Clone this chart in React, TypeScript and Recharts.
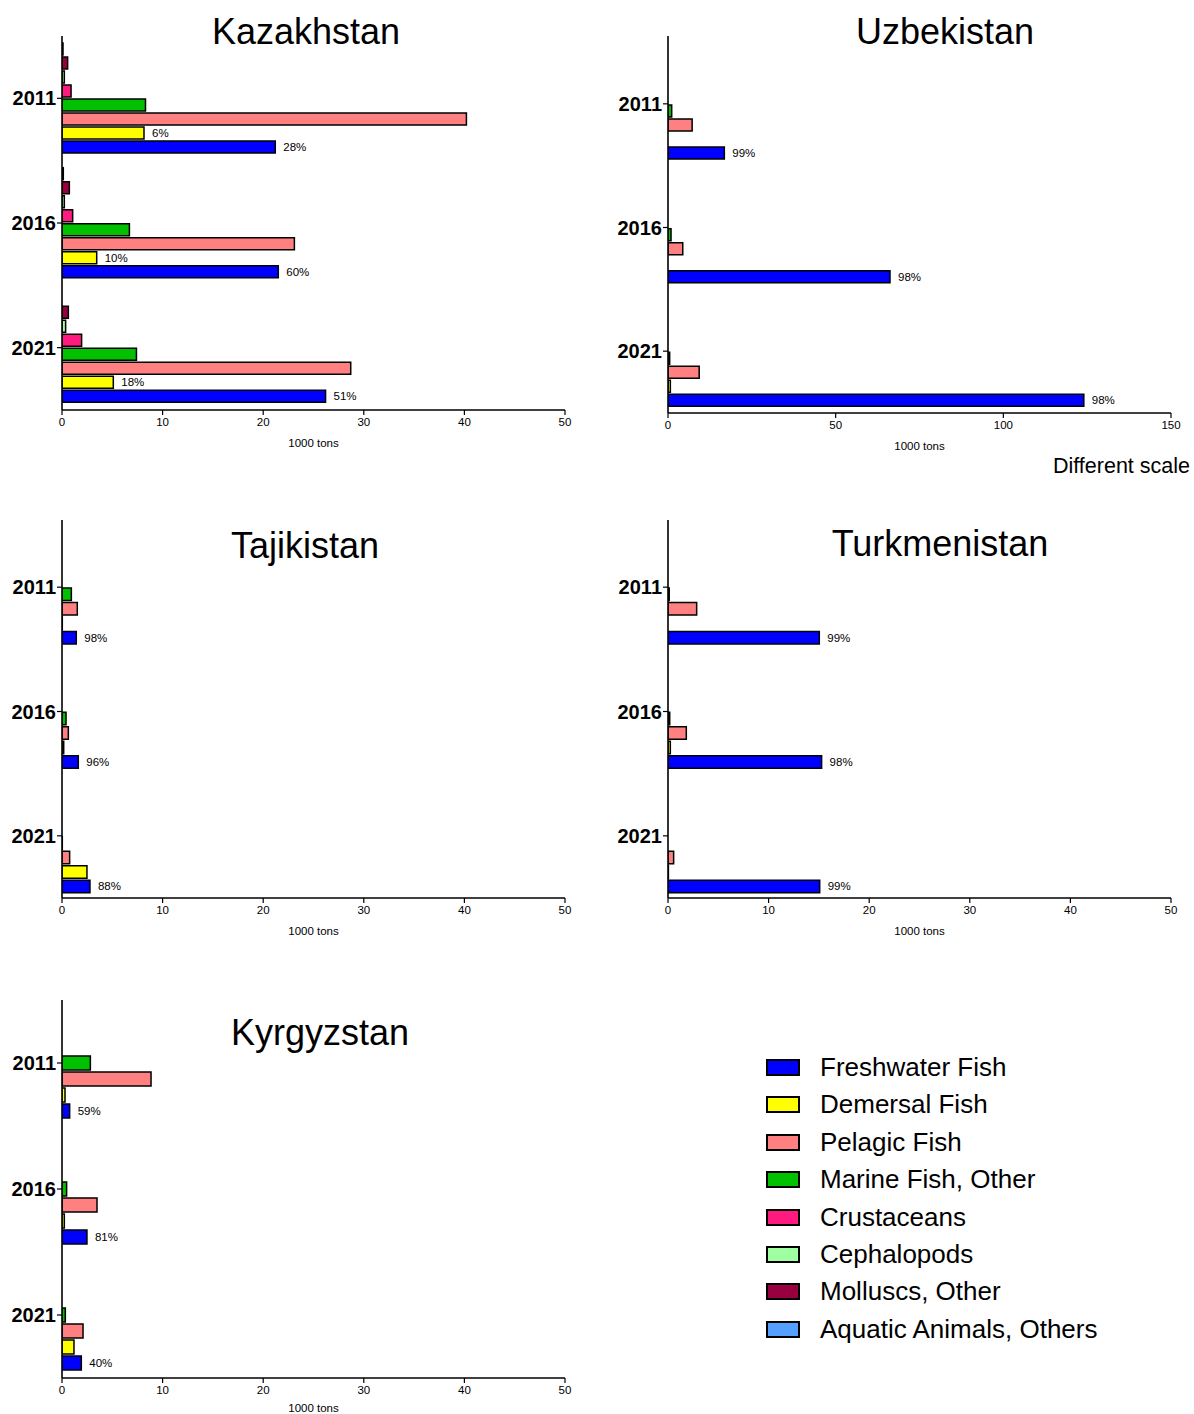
import React from 'react';
import { BarChart, Bar, XAxis, YAxis, LabelList } from 'recharts';

// categories
const years = ['2011', '2016', '2021'];

// series (bottom to top inside each year group)
const seriesKeys = ['fresh', 'demersal', 'pelagic', 'marine', 'crust', 'cephalo', 'mollusc', 'aquatic'];
const seriesNames = [
  'Freshwater Fish',
  'Demersal Fish',
  'Pelagic Fish',
  'Marine Fish, Other',
  'Crustaceans',
  'Cephalopods',
  'Molluscs, Other',
  'Aquatic Animals, Others',
];
const seriesColors = ['#0000ff', '#ffff00', '#ff8080', '#00c000', '#ff1a80', '#a0ffa0', '#990040', '#55a0ff'];

// Kazakhstan, 1000 tons
const kazFresh = [21.2, 21.5, 26.2];
const kazDemersal = [8.15, 3.45, 5.1];
const kazPelagic = [40.2, 23.1, 28.7];
const kazMarine = [8.3, 6.7, 7.4];
const kazCrust = [0.9, 1.06, 1.95];
const kazCephalo = [0.23, 0.23, 0.36];
const kazMollusc = [0.56, 0.73, 0.63];
const kazAquatic = [0.1, 0.13, 0];
const kazFreshPct = ['28%', '60%', '51%'];
const kazDemersalPct = ['6%', '10%', '18%'];

// Uzbekistan
const uzbFresh = [16.8, 66.2, 124];
const uzbDemersal = [0, 0, 0.7];
const uzbPelagic = [7.2, 4.4, 9.3];
const uzbMarine = [1.1, 0.9, 0.5];
const uzbFreshPct = ['99%', '98%', '98%'];

// Tajikistan
const tjkFresh = [1.42, 1.62, 2.78];
const tjkDemersal = [0.03, 0.17, 2.48];
const tjkPelagic = [1.52, 0.63, 0.76];
const tjkMarine = [0.93, 0.4, 0.03];
const tjkFreshPct = ['98%', '96%', '88%'];

// Turkmenistan
const tkmFresh = [15.04, 15.27, 15.08];
const tkmDemersal = [0, 0.23, 0.04];
const tkmPelagic = [2.85, 1.82, 0.56];
const tkmMarine = [0.12, 0.17, 0];
const tkmFreshPct = ['99%', '98%', '99%'];

// Kyrgyzstan
const kgzFresh = [0.76, 2.48, 1.92];
const kgzDemersal = [0.3, 0.23, 1.19];
const kgzPelagic = [8.85, 3.48, 2.09];
const kgzMarine = [2.82, 0.46, 0.33];
const kgzFreshPct = ['59%', '81%', '40%'];

const zeros = [0, 0, 0];

const smallTicks = [0, 10, 20, 30, 40, 50];
const bigTicks = [0, 50, 100, 150];

const FONT = '"Liberation Sans", Arial, sans-serif';

const buildRows = (values: Record<string, number[]>, labels: Record<string, string[]>) =>
  years.map((year, i) => {
    const row: Record<string, string | number> = { year };
    Object.keys(values).forEach((k) => {
      row[k] = values[k][i];
    });
    Object.keys(labels).forEach((k) => {
      row[k + 'Pct'] = labels[k][i];
    });
    return row;
  });

const kazRows = buildRows(
  {
    fresh: kazFresh,
    demersal: kazDemersal,
    pelagic: kazPelagic,
    marine: kazMarine,
    crust: kazCrust,
    cephalo: kazCephalo,
    mollusc: kazMollusc,
    aquatic: kazAquatic,
  },
  { fresh: kazFreshPct, demersal: kazDemersalPct }
);
const uzbRows = buildRows(
  { fresh: uzbFresh, demersal: uzbDemersal, pelagic: uzbPelagic, marine: uzbMarine, crust: zeros, cephalo: zeros, mollusc: zeros, aquatic: zeros },
  { fresh: uzbFreshPct }
);
const tjkRows = buildRows(
  { fresh: tjkFresh, demersal: tjkDemersal, pelagic: tjkPelagic, marine: tjkMarine, crust: zeros, cephalo: zeros, mollusc: zeros, aquatic: zeros },
  { fresh: tjkFreshPct }
);
const tkmRows = buildRows(
  { fresh: tkmFresh, demersal: tkmDemersal, pelagic: tkmPelagic, marine: tkmMarine, crust: zeros, cephalo: zeros, mollusc: zeros, aquatic: zeros },
  { fresh: tkmFreshPct }
);
const kgzRows = buildRows(
  { fresh: kgzFresh, demersal: kgzDemersal, pelagic: kgzPelagic, marine: kgzMarine, crust: zeros, cephalo: zeros, mollusc: zeros },
  { fresh: kgzFreshPct }
);

type PanelProps = {
  rows: Record<string, string | number>[];
  keys: string[];
  xMax: number;
  xTicks: number[];
  left: number;
  width: number;
  plotTop: number;
  plotBottom: number;
  barSize: number;
  padTop?: number;
  labelOffset?: number;
};

const Panel = ({ rows, keys, xMax, xTicks, left, width, plotTop, plotBottom, barSize, padTop = 0, labelOffset = 5 }: PanelProps) => {
  const marginTop = 10;
  const xAxisH = 42;
  const marginBottom = 0;
  const height = plotBottom - plotTop + marginTop + xAxisH + marginBottom;
  const plotLeft = 62;
  const plotWidth = 503;
  const topFirst = [...keys].reverse();
  return (
    <div style={{ position: 'absolute', left, top: plotTop - marginTop, width, height }}>
      <BarChart
        width={width}
        height={height}
        data={rows}
        layout="vertical"
        barGap={2}
        barSize={barSize}
        margin={{ top: marginTop, right: width - plotLeft - plotWidth, left: 2, bottom: marginBottom }}
      >
        <XAxis
          type="number"
          domain={[0, xMax]}
          ticks={xTicks}
          allowDataOverflow
          height={xAxisH}
          tickSize={5}
          tickMargin={3}
          axisLine={{ stroke: '#000', strokeWidth: 1.6 }}
          tickLine={{ stroke: '#000', strokeWidth: 1.2 }}
          tick={{ fontSize: 11.5, fill: '#000' }}
          label={{ value: '1000 tons', position: 'insideBottom', offset: labelOffset, fontSize: 11.5, fill: '#000' }}
        />
        <YAxis
          type="category"
          dataKey="year"
          width={60}
          tickSize={5}
          tickMargin={1}
          padding={{ top: padTop, bottom: 0 }}
          axisLine={{ stroke: '#000', strokeWidth: 1.6 }}
          tickLine={{ stroke: '#000', strokeWidth: 1.2 }}
          tick={{ fontSize: 20, fontWeight: 'bold', fill: '#000' }}
        />
        {topFirst.map((k) => {
          const idx = seriesKeys.indexOf(k);
          const hasPct = rows[0][k + 'Pct'] !== undefined;
          return (
            <Bar
              key={k}
              dataKey={k}
              name={seriesNames[idx]}
              fill={seriesColors[idx]}
              stroke="#000"
              strokeWidth={1.5}
              isAnimationActive={false}
            >
              {hasPct && (
                <LabelList dataKey={k + 'Pct'} position="right" offset={8} fontSize={11.5} fill="#000" />
              )}
            </Bar>
          );
        })}
      </BarChart>
    </div>
  );
};

const Title = ({ text, cx, cy }: { text: string; cx: number; cy: number }) => (
  <div
    style={{
      position: 'absolute',
      left: cx - 200,
      top: cy - 18,
      width: 400,
      textAlign: 'center',
      fontSize: 36,
      lineHeight: '36px',
      color: '#000',
    }}
  >
    {text}
  </div>
);

const Legend = () => (
  <div style={{ position: 'absolute', left: 766, top: 1049 }}>
    {seriesNames.map((name, i) => (
      <div key={name} style={{ position: 'absolute', left: 0, top: i * 37.4, height: 36, width: 400 }}>
        <div
          style={{
            position: 'absolute',
            left: 0,
            top: 10,
            width: 34,
            height: 17,
            boxSizing: 'border-box',
            border: '2.5px solid #000',
            background: seriesColors[i],
          }}
        />
        <div style={{ position: 'absolute', left: 54, top: 0, fontSize: 26, lineHeight: '36px', whiteSpace: 'nowrap' }}>
          {name}
        </div>
      </div>
    ))}
  </div>
);

const fullKeys = seriesKeys;
const kgzKeys = seriesKeys.slice(0, 7);

export default function App() {
  return (
    <div
      style={{
        position: 'absolute',
        left: 0,
        top: 0,
        width: 1194,
        height: 1414,
        overflow: 'hidden',
        background: '#fff',
        fontFamily: FONT,
        color: '#000',
      }}
    >
      <Panel rows={kazRows} keys={fullKeys} xMax={50} xTicks={smallTicks} left={0} width={600} plotTop={36} plotBottom={410} barSize={12} />
      <Panel rows={uzbRows} keys={fullKeys} xMax={150} xTicks={bigTicks} left={606} width={588} plotTop={36} plotBottom={413} barSize={12} padTop={6} />
      <Panel rows={tjkRows} keys={fullKeys} xMax={50} xTicks={smallTicks} left={0} width={600} plotTop={520} plotBottom={898} barSize={12.5} padTop={5} />
      <Panel rows={tkmRows} keys={fullKeys} xMax={50} xTicks={smallTicks} left={606} width={588} plotTop={520} plotBottom={898} barSize={12.5} padTop={5} />
      <Panel rows={kgzRows} keys={kgzKeys} xMax={50} xTicks={smallTicks} left={0} width={600} plotTop={1000} plotBottom={1378} barSize={14} labelOffset={8} />

      <Title text="Kazakhstan" cx={306} cy={32} />
      <Title text="Uzbekistan" cx={945} cy={32} />
      <Title text="Tajikistan" cx={305} cy={546} />
      <Title text="Turkmenistan" cx={940} cy={544} />
      <Title text="Kyrgyzstan" cx={320} cy={1033} />

      <div style={{ position: 'absolute', left: 990, top: 453, width: 200, textAlign: 'right', fontSize: 21.5, lineHeight: '26px' }}>
        Different scale
      </div>

      <Legend />
    </div>
  );
}
